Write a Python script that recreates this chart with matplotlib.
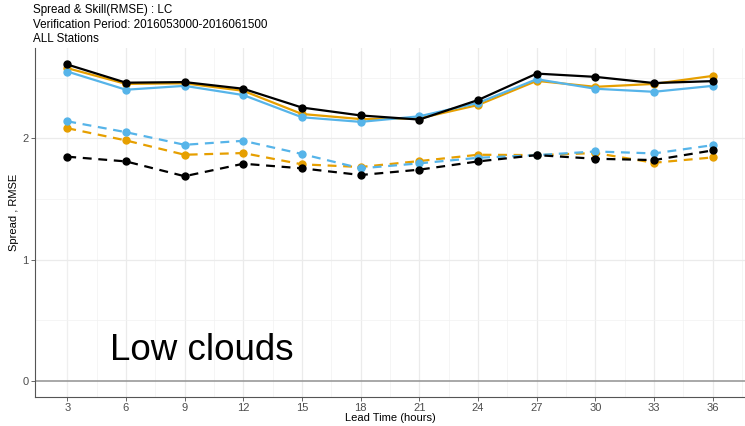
import matplotlib
matplotlib.use("Agg")
import matplotlib.pyplot as plt

plt.rcParams['font.family'] = ['Liberation Sans', 'DejaVu Sans']

lead_time = [3, 6, 9, 12, 15, 18, 21, 24, 27, 30, 33, 36]

rmse_black = [2.61, 2.46, 2.465, 2.41, 2.255, 2.19, 2.156, 2.317, 2.535, 2.508, 2.457, 2.473]
rmse_orange = [2.58, 2.45, 2.455, 2.393, 2.202, 2.16, 2.166, 2.276, 2.475, 2.426, 2.45, 2.516]
rmse_blue = [2.552, 2.402, 2.434, 2.358, 2.175, 2.137, 2.183, 2.293, 2.489, 2.41, 2.385, 2.434]

spread_blue = [2.142, 2.052, 1.948, 1.981, 1.872, 1.754, 1.795, 1.841, 1.863, 1.893, 1.877, 1.945]
spread_orange = [2.085, 1.984, 1.866, 1.88, 1.787, 1.765, 1.814, 1.866, 1.863, 1.88, 1.80, 1.844]
spread_black = [1.85, 1.811, 1.689, 1.792, 1.754, 1.699, 1.743, 1.811, 1.863, 1.833, 1.822, 1.902]

title_lines = ["Spread & Skill(RMSE) : LC",
               "Verification Period: 2016053000-2016061500",
               "ALL Stations"]

BLUE = "#56B4E9"
ORANGE = "#E69F00"
BLACK = "#000000"

W, H = 745, 426
fig = plt.figure(figsize=(W/100, H/100), dpi=100)
ax = fig.add_axes([35/W, 29/H, 710/W, 349/H])

# grid
for xv in lead_time:
    ax.axvline(xv, color="#ebebeb", lw=0.9, zorder=0)
for xv in [x + 1.5 for x in [1.5] + lead_time]:
    ax.axvline(xv, color="#f2f2f2", lw=0.5, zorder=0)
for yv in [0.5, 1.5, 2.5]:
    ax.axhline(yv, color="#f2f2f2", lw=0.5, zorder=0)
for yv in [1, 2]:
    ax.axhline(yv, color="#ebebeb", lw=0.9, zorder=0)
ax.axhline(0, color="#999999", lw=1.2, zorder=1)

series = [
    (rmse_orange, ORANGE, "-"),
    (rmse_blue, BLUE, "-"),
    (rmse_black, BLACK, "-"),
    (spread_orange, ORANGE, "--"),
    (spread_blue, BLUE, "--"),
    (spread_black, BLACK, "--"),
]
for vals, col, ls in series:
    ax.plot(lead_time, vals, color=col, ls=ls, lw=1.6, marker="o", ms=5,
            dashes=(4, 3) if ls == "--" else (None, None), zorder=3)

ax.set_xlim(1.35, 37.65)
ax.set_ylim(-0.131, 2.746)
ax.set_xticks(lead_time)
ax.set_yticks([0, 1, 2])
ax.tick_params(axis="both", colors="#4d4d4d", labelcolor="#4d4d4d",
               labelsize=8, length=3, width=0.6, pad=1.5)
for s in ["top", "right"]:
    ax.spines[s].set_visible(False)
for s in ["left", "bottom"]:
    ax.spines[s].set_color("#555555")
    ax.spines[s].set_linewidth(0.8)
ax.set_facecolor("white")

fig.text((35 + 710/2)/W, 1 - 418/H, "Lead Time (hours)", fontsize=8,
         ha="center", va="center")
fig.text(14/W, 1 - 212/H, "Spread , RMSE", fontsize=8, rotation=90,
         ha="center", va="center")

for i, t in enumerate(title_lines):
    fig.text(33/W, 1 - (10 + 14.5 * i)/H, t, fontsize=8.4, va="center", ha="left")

fig.text(110/W, 1 - 360/H, "Low clouds", fontsize=26.5,
         ha="left", va="baseline")

fig.savefig("out.png", dpi=100)
